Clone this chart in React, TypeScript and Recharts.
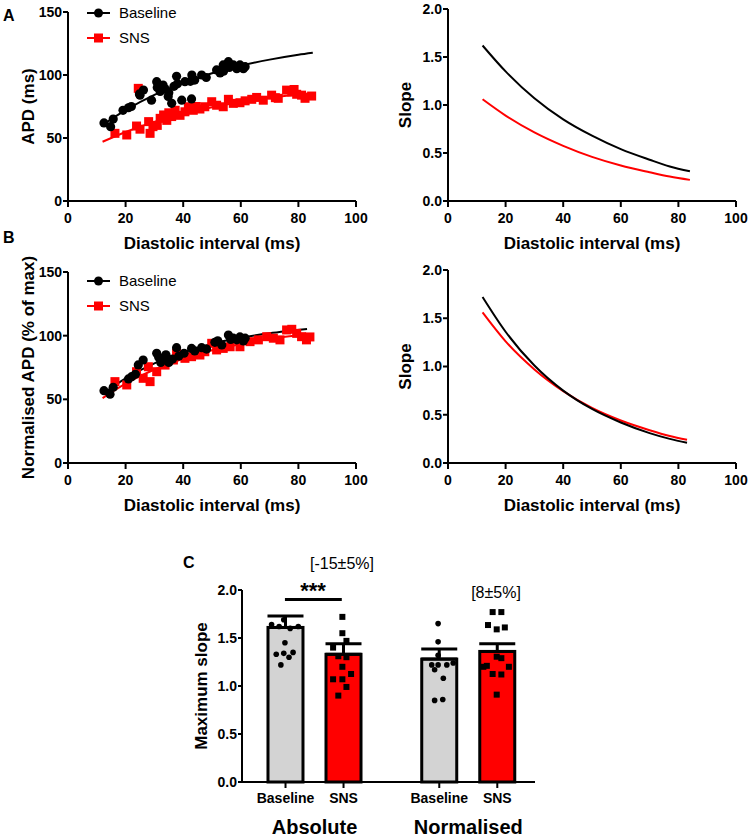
import React from "react";
import {
  ComposedChart, Line, Scatter, Bar, Cell, ErrorBar,
  XAxis, YAxis, Legend, ReferenceLine,
} from "recharts";

const FONT = "Arial, 'Liberation Sans', Helvetica, sans-serif";
const RED = "#ff0000";
const BLACK = "#000000";
const GREY = "#d3d3d3";

// ---- axes ----
const diTicks = [0, 20, 40, 60, 80, 100];
const apdTicks = [0, 50, 100, 150];
const slopeTicks = [0, 0.5, 1, 1.5, 2];
const seriesNames = ["Baseline", "SNS"];

// ---- A: APD vs diastolic interval (ms) ----
const aBaselinePts = [
  [12.5, 62], [14.8, 59], [15.7, 65], [19.1, 72], [21, 74], [22, 75], [24.8, 85], [25, 84],
  [26.2, 88], [29, 80], [30.8, 94.7], [31, 90], [32, 87], [33, 92], [33.7, 89], [34.8, 83],
  [35, 86], [36, 77.5], [36.8, 91], [37.7, 99], [38, 93], [39.5, 80], [40.6, 94.7], [42.5, 95],
  [42.9, 81], [43, 100], [44, 96], [46.4, 100], [48, 98], [51.6, 104], [52.8, 101.6], [54, 103],
  [53.9, 108], [55.7, 110.6], [56, 106], [57.4, 108], [58.6, 105], [59.7, 108], [60.9, 105], [61.5, 106.6],
];
const aSnsPts = [
  [16.3, 53.7], [20.4, 52.4], [23.8, 59.5], [24.4, 89.4], [25, 57], [28, 63], [28.5, 53.7],
  [29.5, 59], [31, 60], [32, 65.6], [33.2, 68.3], [34.3, 64], [35, 70], [36, 67], [37.2, 72],
  [38.9, 68], [40.6, 70.8], [41.8, 74.8], [43.5, 72], [44.5, 75], [45.8, 73], [47.5, 74.8],
  [49.9, 78.8], [51.6, 76], [53.9, 74.8], [55.7, 80.7], [57.4, 77.5], [59.7, 78], [61.5, 79.5],
  [63.8, 80.7], [65.5, 82.2], [67.8, 80], [70.7, 84], [72, 82], [73, 81.5], [75.9, 88], [77.7, 86.5],
  [78.5, 88.5], [79.4, 84.7], [81.1, 84], [82.3, 81.5], [84.6, 83.3],
];
const aBaselineFit = [[12, 60.3], [20, 72.1], [30, 84.2], [40, 93.7], [50, 101.4], [60, 107.4], [70, 112.2], [80, 116.1], [85, 117.7]];
const aSnsFit = [[12, 47], [20, 54.8], [30, 62.8], [40, 69.2], [50, 74.4], [60, 78.6], [70, 81.9], [80, 84.6], [85, 85.7]];
const aBaselineSlope = [[12, 1.62], [20, 1.35], [30, 1.07], [40, 0.85], [50, 0.68], [60, 0.54], [70, 0.43], [77, 0.36], [84, 0.31]];
const aSnsSlope = [[12, 1.06], [20, 0.89], [30, 0.715], [40, 0.575], [50, 0.46], [60, 0.37], [70, 0.3], [77, 0.255], [84, 0.22]];

// ---- B: normalised APD (% of max) ----
const bBaselinePts = [
  [12.5, 56.8], [14.6, 54], [15.7, 59.5], [21, 66], [22.1, 67.8], [23.4, 69.7], [24.4, 77],
  [26.1, 80.9], [30.8, 86.2], [31.5, 83], [32.2, 79], [33.7, 82.5], [34, 85], [35, 79], [36.3, 81.6],
  [37.7, 90.6], [38.5, 84], [40.3, 86.2], [42.9, 90], [44, 88], [46.4, 90.6], [48.1, 89.5],
  [51, 94.8], [52, 96], [53.4, 92.7], [55.7, 100.5], [56.5, 97], [57.4, 98], [58.6, 96.7],
  [59.7, 99], [60.9, 95.9], [61.5, 98],
];
const bSnsPts = [
  [16.3, 63.9], [20.4, 61.3], [23.8, 71.7], [26.1, 66.5], [27.9, 75.6], [28.5, 63.9], [30.8, 71.7],
  [33.7, 76.9], [36.6, 80.9], [37.7, 86.2], [40.6, 82.2], [42.9, 83.5], [45.8, 84.8], [47.5, 87.4],
  [49.9, 94], [51.6, 88.8], [53.9, 90], [56.3, 91.3], [59.7, 91.3], [63.2, 95.3], [66.1, 96.7],
  [69, 99.2], [71.3, 98], [73.6, 96.7], [75.9, 104.5], [77.7, 105], [79.4, 101.8], [81.1, 99.2],
  [82.8, 96.7], [84, 99],
];
const bBaselineFit = [[12, 54.3], [20, 66.5], [30, 78.3], [40, 87], [50, 93.5], [60, 98.3], [70, 101.9], [77, 103.8], [83, 105.3]];
const bSnsFit = [[12, 51], [20, 62.3], [30, 73.4], [40, 81.9], [50, 88.5], [60, 93.5], [70, 97.4], [77, 99.5], [83, 101.1]];
const bBaselineSlope = [[12, 1.72], [20, 1.36], [30, 1.01], [40, 0.75], [50, 0.56], [60, 0.42], [70, 0.31], [77, 0.25], [83, 0.21]];
const bSnsSlope = [[12, 1.56], [20, 1.26], [30, 0.97], [40, 0.745], [50, 0.57], [60, 0.44], [70, 0.34], [77, 0.28], [83, 0.24]];

// ---- C: maximum slope ----
const barLabels = ["Baseline", "SNS", "Baseline", "SNS"];
const barPos = [0.75, 1.75, 3.4, 4.4];
const barMeans = [1.61, 1.33, 1.28, 1.36];
const barSem = [0.12, 0.11, 0.105, 0.08];
const groupLabels = ["Absolute", "Normalised"];
const groupPos = [1.25, 3.9];
const cAbsBaseline = [[0.51, 1.64], [0.64, 1.62], [0.72, 1.69], [0.83, 1.6], [0.97, 1.62], [0.74, 1.45], [0.59, 1.33], [0.72, 1.34], [0.88, 1.35], [0.81, 1.3], [0.67, 1.22]];
const cAbsSns = [[1.73, 1.72], [1.73, 1.55], [1.8, 1.47], [1.57, 1.4], [1.66, 1.31], [1.8, 1.3], [1.73, 1.2], [1.88, 1.125], [1.57, 1.07], [1.73, 1.07], [1.8, 0.99], [1.66, 0.9]];
const cNormBaseline = [[3.38, 1.65], [3.38, 1.46], [3.38, 1.32], [3.27, 1.22], [3.38, 1.22], [3.53, 1.22], [3.64, 1.24], [3.32, 1.17], [3.47, 1.08], [3.32, 0.85], [3.46, 0.86]];
const cNormSns = [[4.32, 1.77], [4.47, 1.77], [4.24, 1.635], [4.39, 1.59], [4.53, 1.61], [4.39, 1.305], [4.47, 1.29], [4.16, 1.2], [4.22, 1.21], [4.6, 1.2], [4.32, 1.125], [4.47, 1.12], [4.39, 0.91]];

const barFill = [GREY, RED, GREY, RED];
const BAR_W = 35;

const pts = (a: number[][]) => a.map(([x, y]) => ({ x, y }));
const barData = barPos.map((x, i) => ({ x, mean: barMeans[i], err: [0, barSem[i]] }));

const dot = (r: number, fill: string) => (p: any) => <circle cx={p.cx} cy={p.cy} r={r} fill={fill} />;
const sq = (s: number, fill: string) => (p: any) => (
  <rect x={p.cx - s / 2} y={p.cy - s / 2} width={s} height={s} fill={fill} />
);
// numeric x axis gives the bars no band width, so draw them centred on the scaled x
const wideBar = (p: any) => (
  <rect x={p.x + p.width / 2 - BAR_W / 2} y={p.y} width={BAR_W} height={p.height}
    fill={p.fill} stroke={BLACK} strokeWidth={3} />
);

const axisProps = {
  axisLine: { stroke: BLACK, strokeWidth: 2 },
  tickLine: { stroke: BLACK, strokeWidth: 2 },
  tick: { fill: BLACK, fontSize: 14, fontWeight: 700, fontFamily: FONT },
  interval: 0 as const,
};
const titleProps = { fontSize: 17, fontWeight: 700, fill: BLACK, fontFamily: FONT };

const xTitle = {
  value: "Diastolic interval (ms)", position: "insideBottom" as const, offset: 0, ...titleProps,
};
const yTitle = (value: string, offset: number) => ({
  value, angle: -90, position: "insideLeft" as const, offset, ...titleProps,
  style: { textAnchor: "middle" as const },
});

function FitLegend({ payload }: any) {
  const items = (payload || [])
    .filter((e: any) => e.type !== "none" && seriesNames.includes(e.value))
    .sort((a: any, b: any) => seriesNames.indexOf(a.value) - seriesNames.indexOf(b.value));
  return (
    <div>
      {items.map((e: any) => (
        <div key={e.value} style={{ display: "flex", alignItems: "center", height: 25, fontFamily: FONT, fontSize: 15, color: BLACK }}>
          <svg width={26} height={12}>
            <line x1={1} x2={24} y1={6} y2={6} stroke={e.color} strokeWidth={2} />
            {e.value === "SNS"
              ? <rect x={8} y={1.5} width={9} height={9} fill={e.color} />
              : <circle cx={12.5} cy={6} r={4.5} fill={e.color} />}
          </svg>
          <span style={{ marginLeft: 7 }}>{e.value}</span>
        </div>
      ))}
    </div>
  );
}

function FitPanel({ left, top, height, mt, mb, legendTop, base, sns, baseFit, snsFit, yLabel }: any) {
  return (
    <div style={{ position: "absolute", left, top }}>
      <ComposedChart width={380} height={height} margin={{ top: mt, right: 24, bottom: mb, left: 20 }}>
        <XAxis dataKey="x" type="number" domain={[0, 100]} ticks={diTicks} height={48}
          tickSize={6} tickMargin={6} {...axisProps} label={xTitle} />
        <YAxis type="number" domain={[0, 150]} ticks={apdTicks} width={48}
          tickSize={5} tickMargin={1} {...axisProps} label={yTitle(yLabel, 8)} />
        <Legend layout="vertical" align="center" verticalAlign="middle"
          wrapperStyle={{ left: 86, top: legendTop }} content={<FitLegend />} />
        <Scatter name="SNS" data={pts(sns)} dataKey="y" fill={RED} shape={sq(9, RED)} isAnimationActive={false} />
        <Scatter name="Baseline" data={pts(base)} dataKey="y" fill={BLACK} shape={dot(4.6, BLACK)} isAnimationActive={false} />
        <Line data={pts(snsFit)} dataKey="y" type="monotone" stroke={RED} strokeWidth={2} dot={false} legendType="none" isAnimationActive={false} />
        <Line data={pts(baseFit)} dataKey="y" type="monotone" stroke={BLACK} strokeWidth={2} dot={false} legendType="none" isAnimationActive={false} />
      </ComposedChart>
    </div>
  );
}

function SlopePanel({ left, top, height, mt, mb, baseSlope, snsSlope }: any) {
  return (
    <div style={{ position: "absolute", left, top }}>
      <ComposedChart width={371} height={height} margin={{ top: mt, right: 15, bottom: mb, left: 20 }}>
        <XAxis dataKey="x" type="number" domain={[0, 100]} ticks={diTicks} height={48}
          tickSize={6} tickMargin={6} {...axisProps} label={xTitle} />
        <YAxis type="number" domain={[0, 2]} ticks={slopeTicks} width={48}
          tickFormatter={(v: number) => v.toFixed(1)} tickSize={5} tickMargin={1} {...axisProps}
          label={yTitle("Slope", 5)} />
        <Line data={pts(snsSlope)} dataKey="y" type="monotone" stroke={RED} strokeWidth={2} dot={false} isAnimationActive={false} />
        <Line data={pts(baseSlope)} dataKey="y" type="monotone" stroke={BLACK} strokeWidth={2} dot={false} isAnimationActive={false} />
      </ComposedChart>
    </div>
  );
}

const tag = (text: string, left: number, top: number, extra: any = {}) => (
  <div style={{ position: "absolute", left, top, fontFamily: FONT, fontSize: 16, fontWeight: 700, lineHeight: 1, color: BLACK, whiteSpace: "nowrap", ...extra }}>
    {text}
  </div>
);

export default function App() {
  return (
    <div style={{ position: "absolute", left: 0, top: 0, width: 751, height: 837, background: "#fff" }}>
      <FitPanel left={0} top={0} height={258} mt={12} mb={9} legendTop={0}
        base={aBaselinePts} sns={aSnsPts} baseFit={aBaselineFit} snsFit={aSnsFit} yLabel="APD (ms)" />
      <SlopePanel left={380} top={0} height={258} mt={9} mb={9} baseSlope={aBaselineSlope} snsSlope={aSnsSlope} />
      <FitPanel left={0} top={225} height={298} mt={47} mb={12} legendTop={43}
        base={bBaselinePts} sns={bSnsPts} baseFit={bBaselineFit} snsFit={bSnsFit} yLabel="Normalised APD (% of max)" />
      <SlopePanel left={380} top={225} height={298} mt={45} mb={12} baseSlope={bBaselineSlope} snsSlope={bSnsSlope} />

      <div style={{ position: "absolute", left: 180, top: 540 }}>
        <ComposedChart width={380} height={297} data={barData} margin={{ top: 50, right: 25, bottom: 0, left: 14 }}>
          <XAxis dataKey="x" type="number" domain={[0, 5.05]} ticks={barPos} height={24}
            tickFormatter={(v: number) => barLabels[barPos.indexOf(v)]} tickSize={6} tickMargin={5} {...axisProps} />
          <XAxis xAxisId="group" dataKey="x" type="number" domain={[0, 5.05]} ticks={groupPos} height={31}
            tickFormatter={(v: number) => groupLabels[groupPos.indexOf(v)]} axisLine={false} tickLine={false}
            tickSize={0} tickMargin={14} interval={0}
            tick={{ fill: BLACK, fontSize: 20, fontWeight: 700, fontFamily: FONT }} />
          <YAxis type="number" domain={[0, 2]} ticks={slopeTicks} width={48}
            tickFormatter={(v: number) => v.toFixed(1)} tickSize={4} tickMargin={1} {...axisProps}
            label={yTitle("Maximum slope", 7)} />
          <Bar dataKey="mean" barSize={BAR_W} shape={wideBar} isAnimationActive={false}>
            {barData.map((d, i) => <Cell key={i} fill={barFill[i]} />)}
            <ErrorBar dataKey="err" width={18} stroke={BLACK} strokeWidth={3} direction="y" />
          </Bar>
          <ReferenceLine segment={[{ x: 0.74, y: 1.9 }, { x: 1.72, y: 1.9 }]} stroke={BLACK} strokeWidth={3} />
          <Scatter data={pts(cAbsBaseline)} dataKey="y" shape={dot(2.8, BLACK)} isAnimationActive={false} />
          <Scatter data={pts(cAbsSns)} dataKey="y" shape={sq(6, BLACK)} isAnimationActive={false} />
          <Scatter data={pts(cNormBaseline)} dataKey="y" shape={dot(2.8, BLACK)} isAnimationActive={false} />
          <Scatter data={pts(cNormSns)} dataKey="y" shape={sq(6, BLACK)} isAnimationActive={false} />
        </ComposedChart>
      </div>

      {tag("A", 3, 8)}
      {tag("B", 3, 230)}
      {tag("C", 183, 555)}
      {tag("***", 313, 580, { fontSize: 22, transform: "translateX(-50%)" })}
      {tag("[-15±5%]", 342, 556, { fontWeight: 400, transform: "translateX(-50%)" })}
      {tag("[8±5%]", 496, 585, { fontWeight: 400, transform: "translateX(-50%)" })}
    </div>
  );
}
